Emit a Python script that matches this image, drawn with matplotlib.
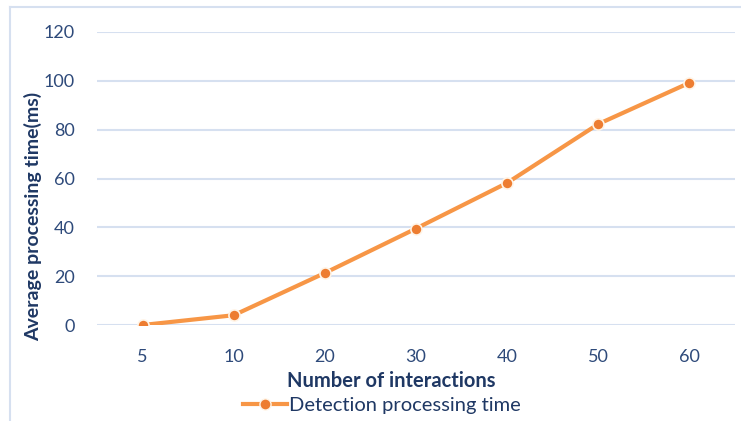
import matplotlib.pyplot as plt
from matplotlib.lines import Line2D

# data
interactions = ['5', '10', '20', '30', '40', '50', '60']
proc_time = [0, 4, 21.3, 39.5, 58.2, 82.3, 99.2]
yticks = [0, 20, 40, 60, 80, 100, 120]

text_col = '#1F3864'
tick_col = '#2E4A7A'
line_col = '#F79646'
mark_col = '#ED7D31'
grid_col = '#D6E0F0'

plt.rcParams['font.family'] = ['Lato', 'DejaVu Sans']

fig = plt.figure(figsize=(7.41, 4.21), dpi=100)
ax = fig.add_axes([97 / 741, 1 - 325 / 421, (735 - 97) / 741, (325 - 32) / 421])

x = range(len(interactions))
ax.plot(x, proc_time, color=line_col, lw=3, marker='o', markersize=8,
        markerfacecolor=mark_col, markeredgecolor='#FFF5E8', markeredgewidth=1.2,
        zorder=3)

ax.set_xlim(-0.5, len(interactions) - 0.5)
ax.set_ylim(0, 120)
ax.set_yticks(yticks)
ax.set_xticks(list(x))
ax.set_xticklabels(interactions)
ax.grid(axis='y', color=grid_col, lw=1.5)
ax.set_axisbelow(True)
for s in ax.spines.values():
    s.set_visible(False)
ax.tick_params(axis='both', length=0, labelsize=13, colors=tick_col)
ax.tick_params(axis='x', pad=17)
ax.tick_params(axis='y', pad=16)

ax.set_ylabel('Average processing time(ms)', fontsize=14, fontweight='bold',
              color=text_col)
ax.yaxis.set_label_coords(-0.086, 0.37)
fig.text(391 / 741, 1 - 381 / 421, 'Number of interactions', fontsize=14.5,
         fontweight='bold', color=text_col, ha='center', va='center')

handle = Line2D([], [], color=line_col, lw=3, marker='o', markersize=8,
                markerfacecolor=mark_col, markeredgecolor='#FFF5E8')
leg = fig.legend([handle], ['Detection processing time'], loc='center',
                 bbox_to_anchor=(382 / 741, 1 - 405 / 421), frameon=False,
                 fontsize=14.5, handlelength=2.2, handletextpad=0.1)
for t in leg.get_texts():
    t.set_color(text_col)

# outer chart frame
fig.add_artist(Line2D([10 / 741, 10 / 741], [0, 1 - 7 / 421], color=grid_col, lw=1.5))
fig.add_artist(Line2D([10 / 741, 1], [1 - 7 / 421, 1 - 7 / 421], color=grid_col, lw=1.5))

plt.savefig('out.png', dpi=100)
